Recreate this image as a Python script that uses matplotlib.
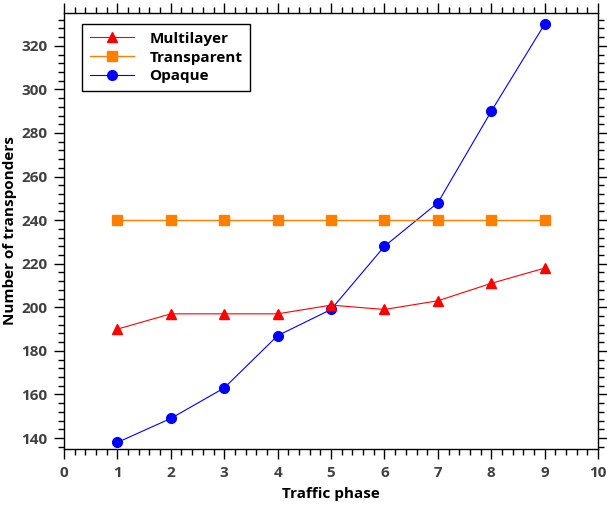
import matplotlib
matplotlib.use('Agg')
import matplotlib.pyplot as plt
from matplotlib.ticker import MultipleLocator

# Traffic phases and transponder counts
phases = [1, 2, 3, 4, 5, 6, 7, 8, 9]
multilayer = [190, 197, 197, 197, 201, 199, 203, 211, 218]
transparent = [240, 240, 240, 240, 240, 240, 240, 240, 240]
opaque = [138, 149, 163, 187, 199, 228, 248, 290, 330]

plt.rcParams['font.family'] = ['Open Sans', 'DejaVu Sans']
plt.rcParams['font.weight'] = 'bold'

fig = plt.figure(figsize=(6.07, 5.05), dpi=100)
ax = fig.add_axes([0.1054, 0.111, 0.880, 0.863])

ax.plot(phases, opaque, color='#0000ff', lw=0.8, marker='o', ms=7,
        label='Opaque', zorder=2)
ax.plot(phases, transparent, color='#ff8000', lw=1.0, marker='s', ms=6.5,
        label='Transparent', zorder=3)
ax.plot(phases, multilayer, color='#ff0000', lw=0.8, marker='^', ms=6.5,
        label='Multilayer', zorder=4)

ax.set_xlim(0, 10)
ax.set_ylim(135, 335)
ax.xaxis.set_major_locator(MultipleLocator(1))
ax.xaxis.set_minor_locator(MultipleLocator(0.2))
ax.yaxis.set_major_locator(MultipleLocator(20))
ax.yaxis.set_minor_locator(MultipleLocator(4))

ax.tick_params(which='both', direction='out', top=True, right=True,
               labeltop=False, labelright=False, width=1,
               labelsize=11, labelcolor='#404040')
ax.tick_params(which='major', length=7, pad=5)
ax.tick_params(which='minor', length=4)
for sp in ax.spines.values():
    sp.set_linewidth(1)

ax.set_xlabel('Traffic phase', fontsize=11, fontweight='bold', labelpad=5)
ax.set_ylabel('Number of transponders', fontsize=11, fontweight='bold', labelpad=3)

handles, labels = ax.get_legend_handles_labels()
order = [2, 1, 0]
leg = ax.legend([handles[i] for i in order], [labels[i] for i in order],
                loc='upper left', bbox_to_anchor=(0.034, 0.975),
                borderaxespad=0, fontsize=11, fancybox=False, framealpha=1,
                edgecolor='black', handlelength=2.9, handletextpad=1.0,
                borderpad=0.5, labelspacing=0.32)
leg.get_frame().set_linewidth(1)

fig.savefig('out.png', dpi=100)
